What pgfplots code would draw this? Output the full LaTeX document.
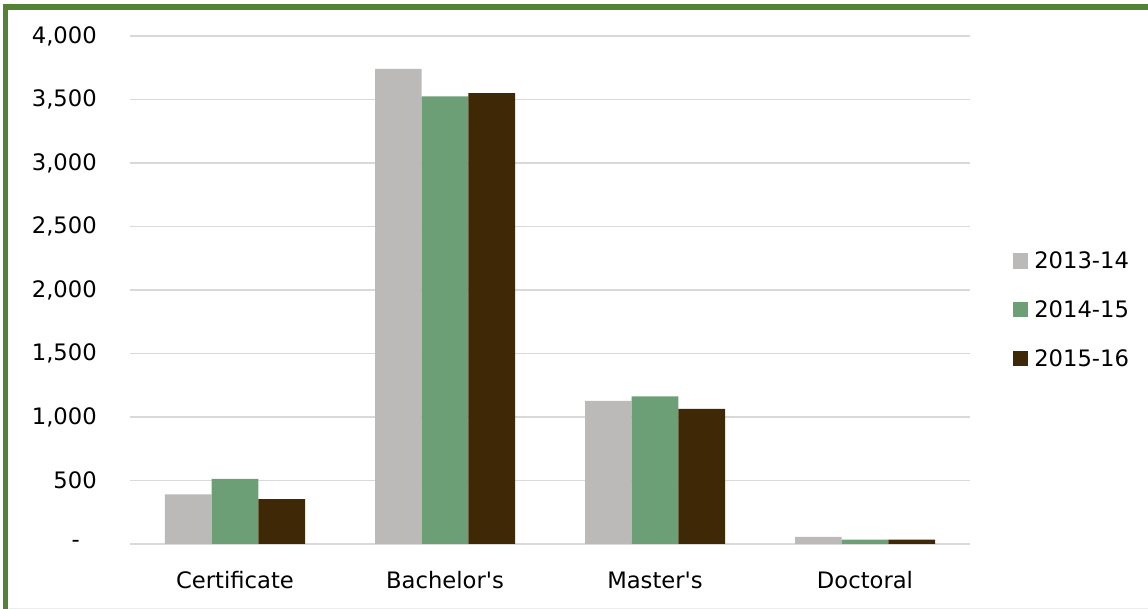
\documentclass[border=0pt]{standalone}
\usepackage{fontspec}
\setmainfont{DejaVu Sans}
\newfontfamily\lblfont{DejaVu Sans}
\usepackage{pgfplots}
\pgfplotsset{compat=1.18}

\definecolor{yrA}{HTML}{BBBAB8}
\definecolor{yrB}{HTML}{6D9F77}
\definecolor{yrC}{HTML}{3F2805}
\definecolor{gridgray}{HTML}{D9D9D9}
\definecolor{frame}{HTML}{548235}

\newcommand{\lbl}{\lblfont\fontsize{17pt}{20pt}\selectfont}

\begin{document}
\begin{tikzpicture}
\path[use as bounding box] (-97.5pt,-48.75pt) rectangle (763.5pt,408pt);
% frame (only top and left edges show)
\draw[frame, line width=4.2pt] (-93.4pt,-48.75pt) -- (-93.4pt,402.75pt) -- (763.5pt,402.75pt);
\draw[green!8!gray!15, line width=0.75pt] (-91pt,-48.3pt) -- (763.5pt,-48.3pt);

\begin{axis}[
    at={(0pt,0pt)}, anchor=south west,
    scale only axis, width=630pt, height=381pt,
    ybar=0pt, bar width=35pt,
    xmin=-0.5, xmax=3.5, ymin=0, ymax=4000,
    xtick={0,1,2,3},
    xticklabels={Certificate, Bachelor's, Master's, Doctoral},
    ytick={0,500,...,4000},
    yticklabels={-\kern12.75pt, 500, {1,000}, {1,500}, {2,000}, {2,500}, {3,000}, {3,500}, {4,000}},
    ymajorgrids, grid style={gridgray, line width=1.1pt},
    axis line style={draw=none}, tick style={draw=none},
    tick label style={font=\lbl},
    yticklabel style={inner sep=0pt, xshift=-24.75pt},
    xticklabel style={inner sep=0pt, text height=13pt, yshift=-16.25pt},
    legend image code/.code={\fill[#1] (0pt,-5.5pt) rectangle (11.5pt,6pt);},
    legend style={at={(1.0508,0.4606)}, anchor=west, draw=none, fill=none,
        inner sep=0pt, row sep=22.5pt, font=\lbl,
        nodes={inner sep=0pt},
        /tikz/every odd column/.append style={column sep=4.5pt}},
]
\addplot[fill=yrA, draw=none] coordinates {(0,391) (1,3742) (2,1126) (3,57)};
\addplot[fill=yrB, draw=none] coordinates {(0,512) (1,3525) (2,1163) (3,34)};
\addplot[fill=yrC, draw=none] coordinates {(0,354) (1,3551) (2,1063) (3,34)};
\legend{2013-14, 2014-15, 2015-16}
\end{axis}
\end{tikzpicture}
\end{document}
